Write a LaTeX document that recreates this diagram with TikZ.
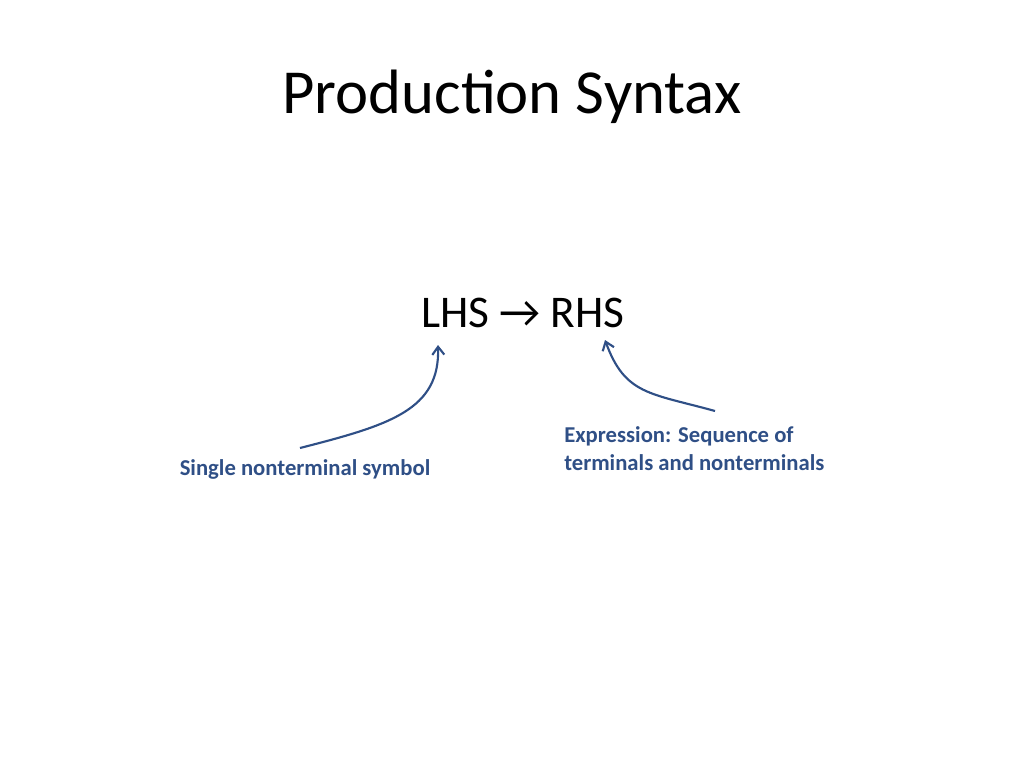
\documentclass[tikz,border=0pt]{standalone}
\usepackage{fontspec}
\usetikzlibrary{arrows.meta}
\setmainfont{Carlito}
\begin{document}
\begin{tikzpicture}[x=0.75pt,y=-0.75pt,
  lbl/.style={font=\fontsize{17}{21}\selectfont\bfseries, text=lblue, inner sep=0pt},
  arr/.style={draw=lblue, line width=1.6pt, -{Straight Barb[length=6pt,width=9pt]}}]
\definecolor{lblue}{HTML}{2F4F86}
\useasboundingbox (0,0) rectangle (1024,768);
\node[font=\fontsize{47}{56}\selectfont] (title) at (512,97) {Production Syntax};
\node[font=\fontsize{34}{40}\selectfont] (rule) at (523,313) {LHS \symbol{"2192} RHS};
\node[lbl] (l1) at (305,469) {Single nonterminal symbol};
\node[lbl, align=left, anchor=west] (l2) at (564,449) {Expression: Sequence of\\terminals and nonterminals};
\coordinate (a1s) at (300,448); \coordinate (a1e) at (438,345);
\coordinate (a2s) at (715,411); \coordinate (a2e) at (605,340);
\draw[arr] (a1s) .. controls (390,425) and (440,410) .. (a1e);
\draw[arr] (a2s) .. controls (650,393) and (625,395) .. (a2e);
\end{tikzpicture}
\end{document}
